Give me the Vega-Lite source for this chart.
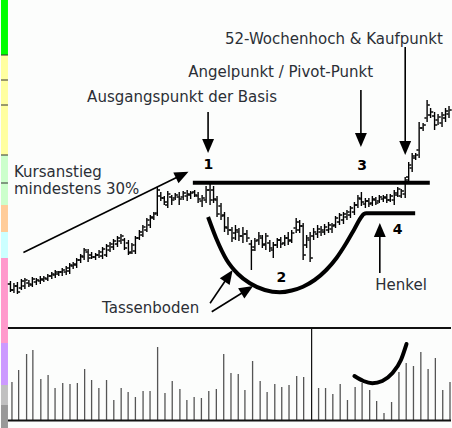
{
  "$schema": "https://vega.github.io/schema/vega-lite/v6.json",
  "width": 452,
  "height": 428,
  "autosize": {"type": "fit", "contains": "padding"},
  "padding": 0,
  "background": "#fcfdfc",
  "config": {"view": {"stroke": null}},
  "datasets": {
    "strip": [
      {"y1": 0, "y2": 55, "band": "a"},
      {"y1": 55, "y2": 155, "band": "b"},
      {"y1": 155, "y2": 205, "band": "c"},
      {"y1": 205, "y2": 232, "band": "d"},
      {"y1": 232, "y2": 258, "band": "e"},
      {"y1": 258, "y2": 343, "band": "f"},
      {"y1": 343, "y2": 385, "band": "g"},
      {"y1": 385, "y2": 405, "band": "h"},
      {"y1": 405, "y2": 428, "band": "i"}
    ],
    "seps": [{"y": 55}, {"y": 80}, {"y": 105}, {"y": 155}, {"y": 183}],
    "vol": [
      {"x": 11, "v": 382}, {"x": 17.7, "v": 370}, {"x": 25.7, "v": 354}, {"x": 32, "v": 350},
      {"x": 40, "v": 379}, {"x": 47.3, "v": 375}, {"x": 54.3, "v": 388}, {"x": 62, "v": 383},
      {"x": 69.3, "v": 384}, {"x": 76.7, "v": 383}, {"x": 84, "v": 369}, {"x": 91, "v": 380},
      {"x": 98.3, "v": 388}, {"x": 106, "v": 380}, {"x": 113.3, "v": 400}, {"x": 120.7, "v": 388},
      {"x": 127.7, "v": 392}, {"x": 135, "v": 397}, {"x": 142.7, "v": 391}, {"x": 149.7, "v": 391},
      {"x": 157.3, "v": 347}, {"x": 164.7, "v": 393}, {"x": 172, "v": 381}, {"x": 179.7, "v": 389},
      {"x": 186.7, "v": 400}, {"x": 194, "v": 397}, {"x": 201.3, "v": 398}, {"x": 208.7, "v": 391},
      {"x": 216.3, "v": 389}, {"x": 223.7, "v": 354}, {"x": 231, "v": 373}, {"x": 238.3, "v": 374},
      {"x": 245, "v": 390}, {"x": 252.7, "v": 361}, {"x": 260.3, "v": 381}, {"x": 267.3, "v": 392},
      {"x": 275, "v": 384}, {"x": 282, "v": 387}, {"x": 289.3, "v": 385}, {"x": 297, "v": 376},
      {"x": 304, "v": 377}, {"x": 319, "v": 388}, {"x": 326, "v": 388}, {"x": 333.3, "v": 394},
      {"x": 340.7, "v": 384}, {"x": 348, "v": 400}, {"x": 355.7, "v": 387}, {"x": 362.7, "v": 383},
      {"x": 370.3, "v": 390}, {"x": 377.3, "v": 401}, {"x": 384.7, "v": 413}, {"x": 392.3, "v": 402},
      {"x": 399.7, "v": 372}, {"x": 407, "v": 363}, {"x": 414.3, "v": 366}, {"x": 421.7, "v": 352},
      {"x": 429, "v": 369}, {"x": 436.3, "v": 358}, {"x": 443.7, "v": 390}, {"x": 451, "v": 382}
    ],
    "bars": [
      {"x": 9.5, "hi": 281, "lo": 292, "o": 284, "c": 290},
      {"x": 13, "hi": 283, "lo": 293, "o": 290, "c": 286},
      {"x": 16.5, "hi": 282, "lo": 294, "o": 286, "c": 292},
      {"x": 20.5, "hi": 279, "lo": 290, "o": 288, "c": 281},
      {"x": 24, "hi": 278, "lo": 289, "o": 286, "c": 280},
      {"x": 28, "hi": 280, "lo": 287, "o": 283, "c": 284},
      {"x": 31.5, "hi": 277, "lo": 287, "o": 285, "c": 279},
      {"x": 35.5, "hi": 278, "lo": 285, "o": 282, "c": 280},
      {"x": 39.5, "hi": 276, "lo": 284, "o": 281, "c": 279},
      {"x": 43, "hi": 276, "lo": 282, "o": 280, "c": 278},
      {"x": 47, "hi": 274, "lo": 281, "o": 279, "c": 276},
      {"x": 51, "hi": 272, "lo": 279, "o": 276, "c": 274},
      {"x": 54.5, "hi": 270, "lo": 278, "o": 275, "c": 272},
      {"x": 58, "hi": 271, "lo": 276, "o": 274, "c": 272},
      {"x": 61.5, "hi": 268, "lo": 276, "o": 272, "c": 270},
      {"x": 65.5, "hi": 266, "lo": 275, "o": 272, "c": 268},
      {"x": 69, "hi": 263, "lo": 274, "o": 271, "c": 265},
      {"x": 72.5, "hi": 262, "lo": 269, "o": 266, "c": 264},
      {"x": 76, "hi": 258, "lo": 268, "o": 265, "c": 260},
      {"x": 80, "hi": 254, "lo": 263, "o": 260, "c": 256},
      {"x": 83.5, "hi": 248, "lo": 260, "o": 257, "c": 250},
      {"x": 87.5, "hi": 249, "lo": 262, "o": 252, "c": 258},
      {"x": 91, "hi": 252, "lo": 259, "o": 255, "c": 257},
      {"x": 95, "hi": 253, "lo": 260, "o": 257, "c": 255},
      {"x": 98.5, "hi": 250, "lo": 258, "o": 255, "c": 252},
      {"x": 102, "hi": 247, "lo": 259, "o": 256, "c": 249},
      {"x": 106, "hi": 244, "lo": 257, "o": 255, "c": 246},
      {"x": 109.5, "hi": 242, "lo": 252, "o": 250, "c": 244},
      {"x": 113, "hi": 239, "lo": 250, "o": 247, "c": 241},
      {"x": 117, "hi": 236, "lo": 247, "o": 244, "c": 238},
      {"x": 120.5, "hi": 234, "lo": 244, "o": 241, "c": 236},
      {"x": 124, "hi": 238, "lo": 250, "o": 240, "c": 248},
      {"x": 128, "hi": 240, "lo": 255, "o": 243, "c": 253},
      {"x": 131.5, "hi": 243, "lo": 254, "o": 252, "c": 245},
      {"x": 135, "hi": 236, "lo": 254, "o": 251, "c": 238},
      {"x": 139, "hi": 230, "lo": 240, "o": 238, "c": 232},
      {"x": 142.5, "hi": 225, "lo": 237, "o": 235, "c": 227},
      {"x": 146.5, "hi": 218, "lo": 232, "o": 230, "c": 220},
      {"x": 150, "hi": 215, "lo": 228, "o": 225, "c": 217},
      {"x": 153.5, "hi": 212, "lo": 220, "o": 218, "c": 214},
      {"x": 157, "hi": 187, "lo": 216, "o": 213, "c": 190},
      {"x": 160.5, "hi": 192, "lo": 201, "o": 196, "c": 198},
      {"x": 164, "hi": 196, "lo": 205, "o": 198, "c": 202},
      {"x": 167.5, "hi": 191, "lo": 208, "o": 205, "c": 194},
      {"x": 171.5, "hi": 195, "lo": 205, "o": 197, "c": 200},
      {"x": 175, "hi": 193, "lo": 200, "o": 198, "c": 195},
      {"x": 179, "hi": 192, "lo": 205, "o": 197, "c": 199},
      {"x": 183, "hi": 191, "lo": 200, "o": 197, "c": 193},
      {"x": 187, "hi": 190, "lo": 201, "o": 196, "c": 194},
      {"x": 190.5, "hi": 191, "lo": 199, "o": 195, "c": 193},
      {"x": 194.5, "hi": 190, "lo": 197, "o": 192, "c": 195},
      {"x": 198, "hi": 192, "lo": 203, "o": 196, "c": 199},
      {"x": 202, "hi": 195, "lo": 207, "o": 201, "c": 198},
      {"x": 206, "hi": 186, "lo": 203, "o": 200, "c": 190},
      {"x": 210, "hi": 184, "lo": 205, "o": 190, "c": 200},
      {"x": 213.5, "hi": 186, "lo": 203, "o": 190, "c": 199},
      {"x": 217, "hi": 196, "lo": 217, "o": 200, "c": 214},
      {"x": 221, "hi": 203, "lo": 220, "o": 206, "c": 216},
      {"x": 224.5, "hi": 212, "lo": 232, "o": 215, "c": 227},
      {"x": 228, "hi": 217, "lo": 235, "o": 228, "c": 230},
      {"x": 232, "hi": 227, "lo": 242, "o": 230, "c": 238},
      {"x": 235.5, "hi": 225, "lo": 240, "o": 233, "c": 230},
      {"x": 239, "hi": 228, "lo": 241, "o": 232, "c": 236},
      {"x": 243, "hi": 227, "lo": 243, "o": 236, "c": 234},
      {"x": 247, "hi": 230, "lo": 242, "o": 234, "c": 238},
      {"x": 251.5, "hi": 240, "lo": 270, "o": 244, "c": 250},
      {"x": 255, "hi": 238, "lo": 251, "o": 247, "c": 241},
      {"x": 259, "hi": 232, "lo": 245, "o": 240, "c": 236},
      {"x": 262.5, "hi": 235, "lo": 248, "o": 238, "c": 245},
      {"x": 266, "hi": 233, "lo": 250, "o": 244, "c": 236},
      {"x": 270, "hi": 240, "lo": 252, "o": 243, "c": 248},
      {"x": 273.5, "hi": 242, "lo": 258, "o": 250, "c": 245},
      {"x": 277.5, "hi": 238, "lo": 248, "o": 245, "c": 240},
      {"x": 281, "hi": 237, "lo": 248, "o": 240, "c": 244},
      {"x": 285, "hi": 235, "lo": 246, "o": 243, "c": 238},
      {"x": 288.5, "hi": 232, "lo": 245, "o": 238, "c": 241},
      {"x": 292, "hi": 230, "lo": 243, "o": 240, "c": 233},
      {"x": 296.5, "hi": 218, "lo": 233, "o": 228, "c": 222},
      {"x": 300, "hi": 220, "lo": 233, "o": 230, "c": 226},
      {"x": 303.5, "hi": 223, "lo": 260, "o": 226, "c": 255},
      {"x": 307, "hi": 235, "lo": 248, "o": 245, "c": 238},
      {"x": 310.5, "hi": 232, "lo": 262, "o": 240, "c": 258},
      {"x": 314, "hi": 228, "lo": 240, "o": 236, "c": 232},
      {"x": 318, "hi": 225, "lo": 238, "o": 234, "c": 229},
      {"x": 321.5, "hi": 226, "lo": 236, "o": 232, "c": 230},
      {"x": 325, "hi": 224, "lo": 235, "o": 232, "c": 227},
      {"x": 329, "hi": 222, "lo": 233, "o": 230, "c": 225},
      {"x": 332.5, "hi": 223, "lo": 233, "o": 229, "c": 226},
      {"x": 336, "hi": 216, "lo": 228, "o": 225, "c": 218},
      {"x": 340, "hi": 213, "lo": 225, "o": 222, "c": 215},
      {"x": 344, "hi": 212, "lo": 224, "o": 220, "c": 214},
      {"x": 347.5, "hi": 210, "lo": 220, "o": 217, "c": 212},
      {"x": 351, "hi": 206, "lo": 218, "o": 215, "c": 208},
      {"x": 355, "hi": 202, "lo": 215, "o": 212, "c": 205},
      {"x": 358.5, "hi": 195, "lo": 208, "o": 205, "c": 198},
      {"x": 362, "hi": 192, "lo": 206, "o": 199, "c": 202},
      {"x": 366, "hi": 198, "lo": 208, "o": 204, "c": 201},
      {"x": 369.5, "hi": 198, "lo": 207, "o": 201, "c": 204},
      {"x": 373, "hi": 196, "lo": 206, "o": 203, "c": 199},
      {"x": 376.5, "hi": 197, "lo": 205, "o": 200, "c": 203},
      {"x": 380, "hi": 195, "lo": 203, "o": 201, "c": 197},
      {"x": 384, "hi": 195, "lo": 202, "o": 199, "c": 197},
      {"x": 387.5, "hi": 194, "lo": 203, "o": 198, "c": 200},
      {"x": 391, "hi": 194, "lo": 202, "o": 200, "c": 196},
      {"x": 395, "hi": 190, "lo": 205, "o": 200, "c": 193},
      {"x": 398.5, "hi": 187, "lo": 197, "o": 195, "c": 189},
      {"x": 402, "hi": 189, "lo": 198, "o": 196, "c": 191},
      {"x": 406, "hi": 177, "lo": 198, "o": 194, "c": 180},
      {"x": 409.5, "hi": 162, "lo": 182, "o": 177, "c": 165},
      {"x": 413, "hi": 153, "lo": 172, "o": 168, "c": 156},
      {"x": 416.5, "hi": 153, "lo": 160, "o": 158, "c": 155},
      {"x": 420, "hi": 122, "lo": 158, "o": 150, "c": 128},
      {"x": 424, "hi": 123, "lo": 131, "o": 128, "c": 125},
      {"x": 428, "hi": 100, "lo": 122, "o": 118, "c": 105},
      {"x": 431.5, "hi": 108, "lo": 118, "o": 115, "c": 112},
      {"x": 435.5, "hi": 112, "lo": 130, "o": 116, "c": 125},
      {"x": 439, "hi": 114, "lo": 125, "o": 120, "c": 117},
      {"x": 443, "hi": 112, "lo": 127, "o": 123, "c": 115},
      {"x": 446.5, "hi": 108, "lo": 122, "o": 118, "c": 111},
      {"x": 450, "hi": 106, "lo": 118, "o": 114, "c": 110}
    ],
    "cup": [
      {"x": 208, "y": 217}, {"x": 216, "y": 238}, {"x": 226.7, "y": 260}, {"x": 238, "y": 274},
      {"x": 250, "y": 283.3}, {"x": 265, "y": 290}, {"x": 280, "y": 292.3}, {"x": 292, "y": 290.5},
      {"x": 303.3, "y": 286.7}, {"x": 315, "y": 280}, {"x": 326.7, "y": 270}, {"x": 337, "y": 258},
      {"x": 346.7, "y": 243.3}, {"x": 355, "y": 229}, {"x": 361.7, "y": 217.3}, {"x": 364.5, "y": 214},
      {"x": 367, "y": 213.3}, {"x": 416, "y": 213.3}
    ],
    "top": [{"x": 192.7, "y": 182.7}, {"x": 430.7, "y": 182.7}],
    "vcurve": [
      {"x": 355, "y": 376}, {"x": 364, "y": 381}, {"x": 373, "y": 383.3}, {"x": 383, "y": 381},
      {"x": 393, "y": 373.3}, {"x": 401.7, "y": 360}, {"x": 407.3, "y": 344}
    ],
    "shafts": [
      {"x": 208, "y": 112, "x2": 208, "y2": 146},
      {"x": 361.5, "y": 90, "x2": 361.5, "y2": 140},
      {"x": 406, "y": 47, "x2": 406, "y2": 148},
      {"x": 380.5, "y": 273, "x2": 380.5, "y2": 230},
      {"x": 22.5, "y": 252.5, "x2": 182, "y2": 174.8},
      {"x": 210, "y": 303.3, "x2": 228.7, "y2": 275.8},
      {"x": 211.7, "y": 311.7, "x2": 247.3, "y2": 289.7}
    ],
    "heads": [
      {"x": 208, "y": 146, "a": 90},
      {"x": 361.5, "y": 140, "a": 90},
      {"x": 406, "y": 148, "a": 90},
      {"x": 380.5, "y": 230, "a": 270},
      {"x": 182, "y": 174.8, "a": 334.1},
      {"x": 228.7, "y": 275.8, "a": 304.5},
      {"x": 247.3, "y": 289.7, "a": 328.3}
    ],
    "labels": [
      {"x": 225, "y": 39, "t": "52-Wochenhoch & Kaufpunkt"},
      {"x": 188, "y": 72, "t": "Angelpunkt / Pivot-Punkt"},
      {"x": 86.5, "y": 97, "t": "Ausgangspunkt der Basis"},
      {"x": 13, "y": 171.5, "t": "Kursanstieg"},
      {"x": 13, "y": 188.5, "t": "mindestens 30%"},
      {"x": 101.5, "y": 308, "t": "Tassenboden"},
      {"x": 376, "y": 285, "t": "Henkel"}
    ],
    "nums": [
      {"x": 208.3, "y": 165, "t": "1"},
      {"x": 281.7, "y": 278.3, "t": "2"},
      {"x": 362.7, "y": 166, "t": "3"},
      {"x": 398.3, "y": 230, "t": "4"}
    ]
  },
  "layer": [
    {
      "data": {"name": "strip"},
      "mark": {"type": "rect"},
      "encoding": {
        "x": {"datum": 0, "type": "quantitative", "scale": {"domain": [0, 452], "nice": false, "zero": false}, "axis": null},
        "x2": {"datum": 7},
        "y": {"field": "y1", "type": "quantitative", "scale": {"domain": [0, 428], "reverse": true, "nice": false, "zero": false}, "axis": null},
        "y2": {"field": "y2"},
        "color": {"field": "band", "type": "nominal", "legend": null,
          "scale": {"domain": ["a", "b", "c", "d", "e", "f", "g", "h", "i"],
            "range": ["#00ff00", "#ffffa0", "#ccffcc", "#ffcc99", "#ccffff", "#ff99cc", "#cc99ff", "#c0c0c0", "#999999"]}}
      }
    },
    {
      "data": {"name": "seps"},
      "mark": {"type": "rule", "color": "#333", "strokeWidth": 1},
      "encoding": {
        "x": {"datum": 0, "type": "quantitative", "axis": null},
        "x2": {"datum": 7},
        "y": {"field": "y", "type": "quantitative", "axis": null}
      }
    },
    {
      "data": {"name": "vol"},
      "mark": {"type": "rule", "color": "#555", "strokeWidth": 1.3},
      "encoding": {
        "x": {"field": "x", "type": "quantitative", "axis": null},
        "y": {"field": "v", "type": "quantitative", "axis": null},
        "y2": {"datum": 420}
      }
    },
    {
      "data": {"values": [{"y": 328}, {"y": 420.5}]},
      "mark": {"type": "rule", "color": "#111", "strokeWidth": 1.8},
      "encoding": {
        "x": {"datum": 7, "type": "quantitative", "axis": null},
        "x2": {"datum": 452},
        "y": {"field": "y", "type": "quantitative", "axis": null}
      }
    },
    {
      "data": {"values": [{"x": 312}]},
      "mark": {"type": "rule", "color": "#111", "strokeWidth": 1.2},
      "encoding": {
        "x": {"field": "x", "type": "quantitative", "axis": null},
        "y": {"datum": 328, "type": "quantitative", "axis": null},
        "y2": {"datum": 420.5}
      }
    },
    {
      "data": {"name": "bars"},
      "mark": {"type": "rule", "color": "#000", "strokeWidth": 1.4},
      "encoding": {
        "x": {"field": "x", "type": "quantitative", "axis": null},
        "y": {"field": "hi", "type": "quantitative", "axis": null},
        "y2": {"field": "lo"}
      }
    },
    {
      "data": {"name": "bars"},
      "mark": {"type": "tick", "orient": "horizontal", "size": 2.2, "thickness": 1.5, "color": "#000", "opacity": 1, "xOffset": -1.6},
      "encoding": {
        "x": {"field": "x", "type": "quantitative", "axis": null},
        "y": {"field": "o", "type": "quantitative", "axis": null}
      }
    },
    {
      "data": {"name": "bars"},
      "mark": {"type": "tick", "orient": "horizontal", "size": 2.2, "thickness": 1.5, "color": "#000", "opacity": 1, "xOffset": 1.6},
      "encoding": {
        "x": {"field": "x", "type": "quantitative", "axis": null},
        "y": {"field": "c", "type": "quantitative", "axis": null}
      }
    },
    {
      "data": {"name": "cup"},
      "mark": {"type": "line", "color": "#000", "strokeWidth": 4, "interpolate": "monotone"},
      "encoding": {
        "x": {"field": "x", "type": "quantitative", "axis": null},
        "y": {"field": "y", "type": "quantitative", "axis": null}
      }
    },
    {
      "data": {"name": "top"},
      "mark": {"type": "line", "color": "#000", "strokeWidth": 4},
      "encoding": {
        "x": {"field": "x", "type": "quantitative", "axis": null},
        "y": {"field": "y", "type": "quantitative", "axis": null}
      }
    },
    {
      "data": {"name": "vcurve"},
      "mark": {"type": "line", "color": "#000", "strokeWidth": 4, "interpolate": "monotone", "strokeCap": "round"},
      "encoding": {
        "x": {"field": "x", "type": "quantitative", "axis": null},
        "y": {"field": "y", "type": "quantitative", "axis": null}
      }
    },
    {
      "data": {"name": "shafts"},
      "mark": {"type": "rule", "color": "#000", "strokeWidth": 1.6},
      "encoding": {
        "x": {"field": "x", "type": "quantitative", "axis": null},
        "y": {"field": "y", "type": "quantitative", "axis": null},
        "x2": {"field": "x2"},
        "y2": {"field": "y2"}
      }
    },
    {
      "data": {"name": "heads"},
      "mark": {"type": "point", "shape": "M-1,-0.85L1,0L-1,0.85Z", "filled": true, "color": "#000", "opacity": 1, "size": 196},
      "encoding": {
        "x": {"field": "x", "type": "quantitative", "axis": null},
        "y": {"field": "y", "type": "quantitative", "axis": null},
        "angle": {"field": "a", "type": "quantitative", "scale": null}
      }
    },
    {
      "data": {"name": "labels"},
      "mark": {"type": "text", "align": "left", "baseline": "middle", "font": "DejaVu Sans", "fontSize": 15, "color": "#2b2f36"},
      "encoding": {
        "x": {"field": "x", "type": "quantitative", "axis": null},
        "y": {"field": "y", "type": "quantitative", "axis": null},
        "text": {"field": "t"}
      }
    },
    {
      "data": {"name": "nums"},
      "mark": {"type": "text", "align": "center", "baseline": "middle", "font": "DejaVu Sans", "fontSize": 14, "fontWeight": "bold", "color": "#000"},
      "encoding": {
        "x": {"field": "x", "type": "quantitative", "axis": null},
        "y": {"field": "y", "type": "quantitative", "axis": null},
        "text": {"field": "t"}
      }
    }
  ]
}
